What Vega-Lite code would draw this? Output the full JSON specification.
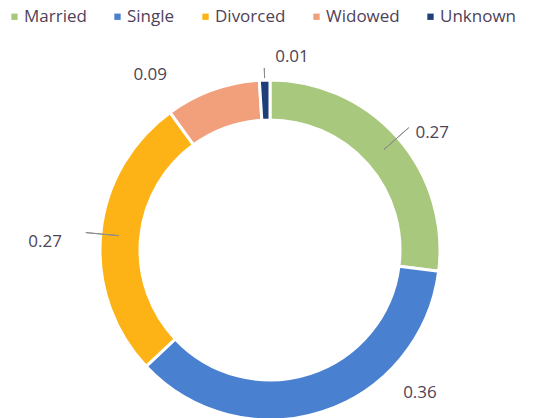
{
  "$schema": "https://vega.github.io/schema/vega-lite/v6.json",
  "width": 540,
  "height": 500,
  "autosize": {"type": "none"},
  "padding": 0,
  "background": "white",
  "config": {"view": {"stroke": null}, "font": "Open Sans"},
  "data": {
    "values": [
      {"status": "Married", "value": 0.27, "idx": 1},
      {"status": "Single", "value": 0.36, "idx": 2},
      {"status": "Divorced", "value": 0.27, "idx": 3},
      {"status": "Widowed", "value": 0.09, "idx": 4},
      {"status": "Unknown", "value": 0.01, "idx": 5}
    ]
  },
  "encoding": {
    "order": {"field": "idx", "type": "quantitative"}
  },
  "layer": [
    {
      "mark": {"type": "arc", "outerRadius": 170, "innerRadius": 130, "stroke": "white", "strokeWidth": 3},
      "encoding": {
        "theta": {"field": "value", "type": "quantitative", "stack": true},
        "color": {
          "field": "status",
          "type": "nominal",
          "sort": ["Married", "Single", "Divorced", "Widowed", "Unknown"],
          "scale": {
            "domain": ["Married", "Single", "Divorced", "Widowed", "Unknown"],
            "range": ["#a8c97d", "#4a80d0", "#fdb316", "#f2a07c", "#1f3f7a"]
          },
          "legend": {
            "title": null,
            "orient": "none",
            "legendX": 6,
            "legendY": 8,
            "direction": "horizontal",
            "symbolType": "square",
            "symbolSize": 40,
            "symbolStrokeWidth": 0,
            "labelFontSize": 17,
            "labelColor": "#4f4259",
            "labelFont": "Open Sans",
            "labelOffset": 1,
            "columnPadding": 22
          }
        }
      }
    },
    {
      "transform": [
        {"stack": "value", "groupby": [], "sort": [{"field": "idx"}], "as": ["s0", "s1"]},
        {"calculate": "(datum.s0 + datum.s1) / 2", "as": "mid"},
        {"filter": "datum.status === 'Married' || datum.status === 'Divorced'"}
      ],
      "mark": {"type": "arc", "radius": 152, "radius2": 185, "fill": null, "stroke": "#8c8c8c", "strokeWidth": 1},
      "encoding": {
        "theta": {"field": "mid", "type": "quantitative"},
        "theta2": {"field": "mid"}
      }
    },
    {
      "transform": [
        {"stack": "value", "groupby": [], "sort": [{"field": "idx"}], "as": ["s0", "s1"]},
        {"calculate": "(datum.s0 + datum.s1) / 2", "as": "mid"},
        {"filter": "datum.status === 'Unknown'"}
      ],
      "mark": {"type": "arc", "radius": 172, "radius2": 182, "fill": null, "stroke": "#8c8c8c", "strokeWidth": 1},
      "encoding": {
        "theta": {"field": "mid", "type": "quantitative"},
        "theta2": {"field": "mid"}
      }
    },
    {
      "mark": {"type": "text", "radius": 200, "thetaOffset": 0.098, "fontSize": 17, "color": "#4d4455"},
      "encoding": {
        "theta": {"field": "value", "type": "quantitative", "stack": true},
        "detail": {"field": "status"},
        "text": {"condition": {"test": "datum.status === 'Married'", "field": "value", "format": ".2f"}, "value": ""}
      }
    },
    {
      "mark": {"type": "text", "radius": 207, "thetaOffset": -0.496, "fontSize": 17, "color": "#4d4455"},
      "encoding": {
        "theta": {"field": "value", "type": "quantitative", "stack": true},
        "detail": {"field": "status"},
        "text": {"condition": {"test": "datum.status === 'Single'", "field": "value", "format": ".2f"}, "value": ""}
      }
    },
    {
      "mark": {"type": "text", "radius": 225, "thetaOffset": -0.059, "fontSize": 17, "color": "#4d4455"},
      "encoding": {
        "theta": {"field": "value", "type": "quantitative", "stack": true},
        "detail": {"field": "status"},
        "text": {"condition": {"test": "datum.status === 'Divorced'", "field": "value", "format": ".2f"}, "value": ""}
      }
    },
    {
      "mark": {"type": "text", "radius": 212, "thetaOffset": -0.255, "fontSize": 17, "color": "#4d4455"},
      "encoding": {
        "theta": {"field": "value", "type": "quantitative", "stack": true},
        "detail": {"field": "status"},
        "text": {"condition": {"test": "datum.status === 'Widowed'", "field": "value", "format": ".2f"}, "value": ""}
      }
    },
    {
      "mark": {"type": "text", "radius": 194, "thetaOffset": 0.145, "fontSize": 17, "color": "#4d4455"},
      "encoding": {
        "theta": {"field": "value", "type": "quantitative", "stack": true},
        "detail": {"field": "status"},
        "text": {"condition": {"test": "datum.status === 'Unknown'", "field": "value", "format": ".2f"}, "value": ""}
      }
    }
  ]
}
